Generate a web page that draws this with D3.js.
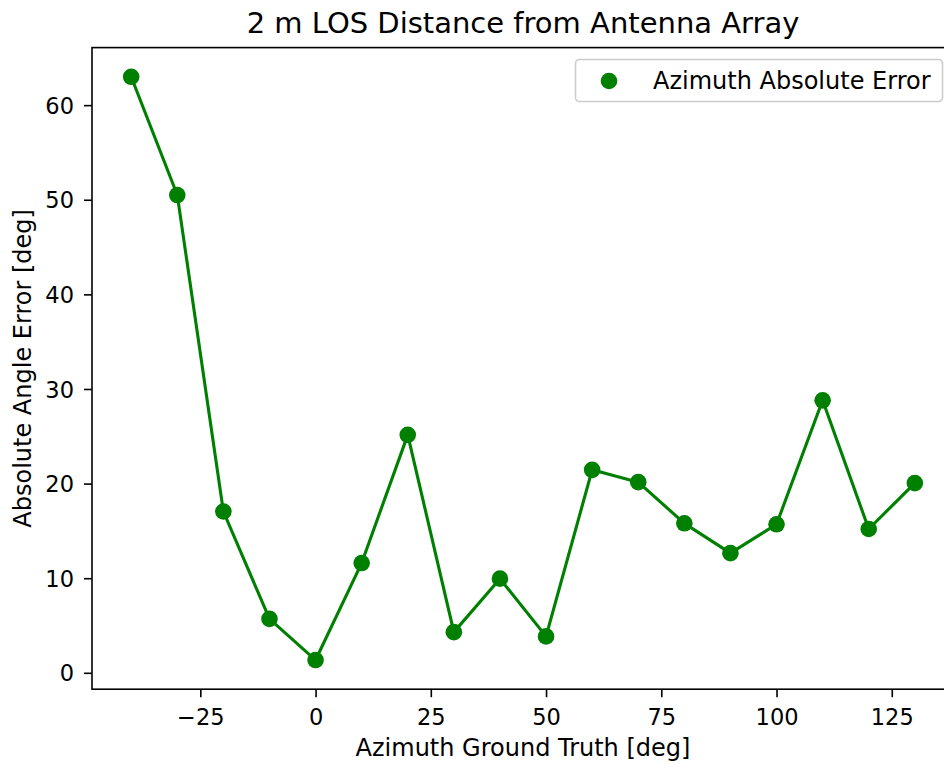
<!DOCTYPE html>
<html>
<head>
<meta charset="utf-8">
<script src="https://cdn.jsdelivr.net/npm/d3@7"></script>
<style>
  html, body { margin: 0; padding: 0; background: #fff; }
  svg { display: block; font-family: "DejaVu Sans", sans-serif; }
</style>
</head>
<body>
<svg id="chart" width="944" height="764"></svg>
<script>
const azimuth = [-40, -30, -20, -10, 0, 10, 20, 30, 40, 50, 60, 70, 80, 90, 100, 110, 120, 130];
const absError = [63.0, 50.5, 17.05, 5.7, 1.35, 11.6, 25.15, 4.3, 9.95, 3.85, 21.45, 20.15, 15.8, 12.65, 15.7, 28.8, 15.2, 20.05];
const xTicks = [-25, 0, 25, 50, 75, 100, 125];
const yTicks = [0, 10, 20, 30, 40, 50, 60];
const titleText = "2 m LOS Distance from Antenna Array";
const xLabel = "Azimuth Ground Truth [deg]";
const yLabel = "Absolute Angle Error [deg]";
const legendLabel = "Azimuth Absolute Error";

const svg = d3.select("#chart");
const L = 92, R = 954, T = 47.6, B = 689.2;
const green = "#008000";

const xMin = d3.min(azimuth), xMax = d3.max(azimuth);
const xm = (xMax - xMin) * 0.05;
const yMin = d3.min(absError), yMax = d3.max(absError);
const ym = (yMax - yMin) * 0.05;

const x = d3.scaleLinear().domain([xMin - xm, xMax + xm]).range([L, R]);
const y = d3.scaleLinear().domain([yMin - ym, yMax + ym]).range([B, T]);

const fmt = d => (d < 0 ? "\u2212" + Math.abs(d) : String(d));
const tickFont = "22.5px", labelFont = "24px";

// Axes
const xAxis = svg.append("g").attr("transform", `translate(0,${B})`)
  .call(d3.axisBottom(x).tickValues(xTicks).tickSize(8).tickPadding(6).tickFormat(fmt));
const yAxis = svg.append("g").attr("transform", `translate(${L},0)`)
  .call(d3.axisLeft(y).tickValues(yTicks).tickSize(8).tickPadding(10).tickFormat(fmt));
[xAxis, yAxis].forEach(g => {
  g.select(".domain").remove();
  g.selectAll(".tick line").attr("stroke", "#000").attr("stroke-width", 1.6);
  g.selectAll(".tick text").attr("fill", "#000").style("font-size", tickFont)
    .style("font-family", "'DejaVu Sans', sans-serif");
});
xAxis.selectAll(".tick text").attr("y", 36).attr("dy", "0");
yAxis.selectAll(".tick text").attr("dy", "0.36em");

// Line and points
svg.append("path")
  .datum(azimuth.map((a, i) => [a, absError[i]]))
  .attr("fill", "none").attr("stroke", green).attr("stroke-width", 3.1)
  .attr("stroke-linejoin", "round")
  .attr("d", d3.line().x(d => x(d[0])).y(d => y(d[1])));

svg.append("g").selectAll("circle")
  .data(azimuth.map((a, i) => [a, absError[i]]))
  .join("circle")
  .attr("cx", d => x(d[0])).attr("cy", d => y(d[1])).attr("r", 8.3)
  .attr("fill", green);

// Spines
svg.append("rect").attr("x", L).attr("y", T).attr("width", R - L).attr("height", B - T)
  .attr("fill", "none").attr("stroke", "#000").attr("stroke-width", 1.6);

// Title & labels
svg.append("text").attr("x", (L + R) / 2).attr("y", 33).attr("text-anchor", "middle")
  .style("font-size", "29px").attr("fill", "#000").text(titleText);
svg.append("text").attr("x", (L + R) / 2).attr("y", 756).attr("text-anchor", "middle")
  .style("font-size", labelFont).attr("fill", "#000").text(xLabel);
svg.append("text").attr("transform", `translate(31,${(T + B) / 2}) rotate(-90)`)
  .attr("text-anchor", "middle")
  .style("font-size", labelFont).attr("fill", "#000").text(yLabel);

// Legend
const lg = svg.append("g");
lg.append("rect").attr("x", 575.5).attr("y", 59.5).attr("width", 367).attr("height", 42)
  .attr("rx", 4).attr("ry", 4)
  .attr("fill", "#fff").attr("fill-opacity", 0.8).attr("stroke", "#cccccc").attr("stroke-width", 1.6);
lg.append("circle").attr("cx", 609).attr("cy", 81).attr("r", 8.3).attr("fill", green);
lg.append("text").attr("x", 653).attr("y", 89).style("font-size", labelFont).attr("fill", "#000")
  .text(legendLabel);
</script>
</body>
</html>
